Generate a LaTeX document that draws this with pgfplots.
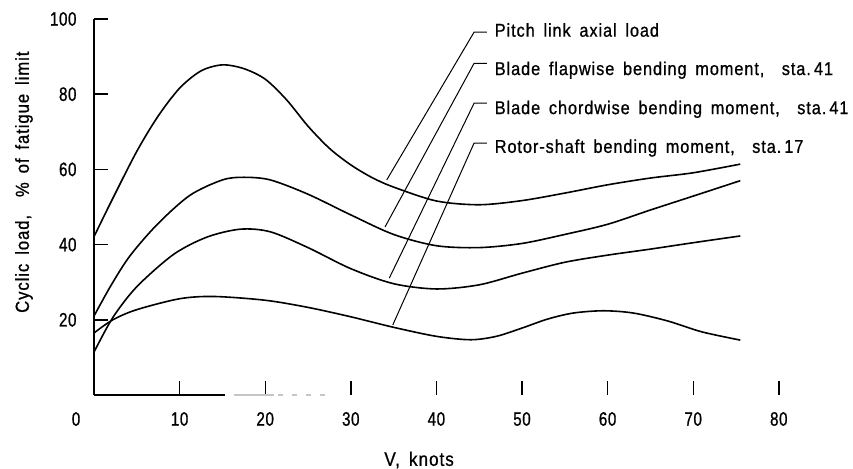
\documentclass[border=0pt]{standalone}
\usepackage{fontspec}
\setmainfont{Liberation Sans}[FakeStretch=0.88, FakeBold=0.8, LetterSpace=5, WordSpace=1.6]
\newfontfamily\tickfont{Liberation Sans}[FakeStretch=0.78, FakeBold=0.8, LetterSpace=3]
\usepackage{pgfplots}
\pgfplotsset{compat=1.18}

\begin{document}
\begin{tikzpicture}
\useasboundingbox (-94bp,-74bp) rectangle (759bp,395bp);
\begin{axis}[
  at={(0,0)}, anchor=south west,
  scale only axis, width=684.8bp, height=376bp,
  xmin=0, xmax=80, ymin=0, ymax=100,
  clip=false,
  axis x line*=bottom, axis y line*=left,
  axis line style={-, line width=1.6bp, black},
  x axis line style={draw=none},
  tick align=inside, major tick length=14bp,
  tick style={line width=1.4bp, black},
  xtick={10,20,...,80}, ytick={20,40,...,100},
  /pgf/number format/assume math mode=true,
  xticklabel style={font=\tickfont\fontsize{19.5}{20}\selectfont, anchor=center, yshift=-24bp},
  yticklabel style={font=\tickfont\fontsize{19.5}{20}\selectfont, xshift=-14bp},
]
% Pitch link axial load
\addplot[black, line width=1.6bp, smooth, no markers] coordinates {
 (0,42.1) (2,51.4) (5,64.8) (7.5,74.2) (10,81.6) (12.5,86.2) (15,87.8) (17.5,86.8) (20,84)
 (22.5,78.5) (25,71.5) (27.5,65.6) (30,61.2) (32.5,57.8) (35,55.3) (40,51.6) (45,50.6)
 (50,51.7) (55,53.7) (60,55.9) (65,57.7) (70,59.1) (75.5,61.4)};
% Blade flapwise bending moment, sta. 41
\addplot[black, line width=1.6bp, smooth, no markers] coordinates {
 (0,21) (2,29.2) (4.2,37) (7.4,45.4) (11.2,53.1) (15,57.2) (17.5,57.9) (20.6,57.2)
 (25,53.4) (30,47.9) (35,42.7) (40,39.7) (45,39.2) (50,40.3) (55,42.7) (60,45.4)
 (65,49.2) (70,52.9) (75.5,57)};
% Blade chordwise bending moment, sta. 41
\addplot[black, line width=1.6bp, smooth, no markers] coordinates {
 (0,11.4) (2.2,20.6) (5,28.8) (9.3,37.4) (13.2,42) (17.1,44.1) (20.6,43.4) (25,39.2)
 (30,33.6) (35,29.6) (40,28.2) (45,29.3) (50,32.4) (55,35.3) (60,37.2) (65,38.8)
 (70,40.5) (75.5,42.3)};
% Rotor-shaft bending moment, sta. 17
\addplot[black, line width=1.6bp, smooth, no markers] coordinates {
 (0,16.5) (2.2,20) (5,22.7) (10,25.6) (14,26.2) (20,25.2) (25,23.3) (30,20.8) (35,18)
 (40,15.6) (44,14.7) (47,15.6) (50,17.8) (53,20.2) (56,21.8) (59.5,22.4) (63,21.8)
 (67,19.7) (71,16.8) (75.5,14.6)};

% bottom axis line (only partly printed)
\draw[line width=1.6bp] (axis cs:0,0) -- (axis cs:15.3,0);
\draw[line width=1.2bp, gray!45] (axis cs:16.3,0) -- (axis cs:21,0);
\draw[line width=1.2bp, gray!45, dash pattern=on 5bp off 9bp] (axis cs:21.5,0) -- (axis cs:28,0);
\node[font=\tickfont\fontsize{19.5}{20}\selectfont] at (axis cs:-2.1,-6.4) {0};

% leader lines and curve names
\draw[line width=1bp] (axis cs:34.2,57.2) -- (axis cs:44.4,96.5) -- (axis cs:45.9,96.5);
\draw[line width=1bp] (axis cs:34.0,44.7) -- (axis cs:44.4,88.2) -- (axis cs:45.9,88.2);
\draw[line width=1bp] (axis cs:34.5,31.1) -- (axis cs:44.4,77.6) -- (axis cs:45.9,77.6);
\draw[line width=1bp] (axis cs:34.9,18.6) -- (axis cs:44.4,67.0) -- (axis cs:45.9,67.0);
\begin{scope}[every node/.style={anchor=base west, inner sep=0pt, font=\fontsize{18.6}{20}\selectfont}]
\node at (axis cs:46.8,95.3) {Pitch link axial load};
\node at (axis cs:46.8,85.1) {Blade flapwise bending moment,\ \ sta.\,41};
\node at (axis cs:46.8,74.7) {Blade chordwise bending moment,\ \ sta.\,41};
\node at (axis cs:46.8,64.4) {Rotor-shaft bending moment,\ \ sta.\,17};
\end{scope}

% axis titles
\node[rotate=90, font=\fontsize{19}{20}\selectfont] at (axis cs:-8.18,56.6) {Cyclic load,\ \ \% of fatigue limit};
\node[anchor=west, inner sep=0pt, font=\fontsize{19.5}{20}\selectfont] at (axis cs:33.9,-17.3) {V, knots};
\end{axis}
\end{tikzpicture}
\end{document}
